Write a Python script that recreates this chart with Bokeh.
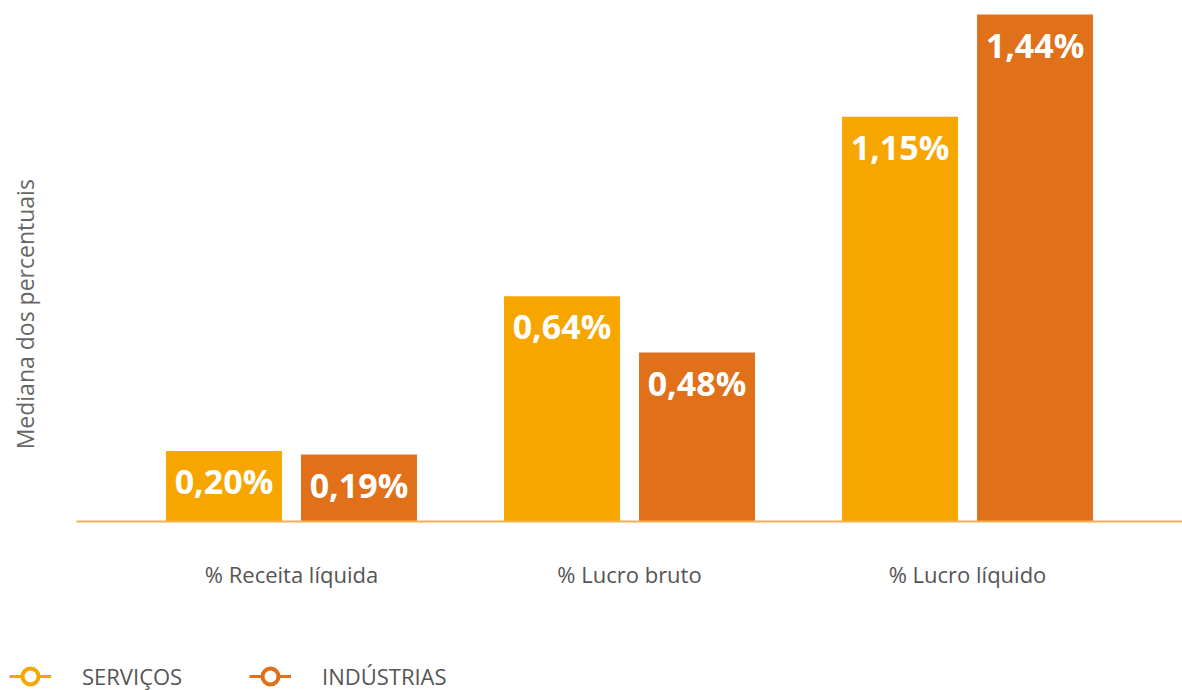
import math
from bokeh.plotting import figure
from bokeh.layouts import column, row
from bokeh.models import (FactorRange, Range1d, ColumnDataSource,
                          Legend, LegendItem, Label)
from bokeh.transform import dodge
from bokeh.core.properties import value
from bokeh.embed import file_html
from bokeh.resources import INLINE

categories = ["% Receita líquida", "% Lucro bruto", "% Lucro líquido"]
servicos = [0.20, 0.64, 1.15]
industrias = [0.19, 0.48, 1.44]
series_names = ["SERVIÇOS", "INDÚSTRIAS"]
y_title = "Mediana dos percentuais"

C_SERV = "#F7A600"
C_IND = "#E0701A"
FONT = "Open Sans"

TOP_H = 636
LEG_H = 54


def fmt(v):
    return f"{v:.2f}%".replace(".", ",")


def blank(fig):
    fig.outline_line_color = None
    fig.background_fill_color = "white"
    fig.border_fill_color = "white"
    fig.xgrid.grid_line_color = None
    fig.ygrid.grid_line_color = None


src = ColumnDataSource(dict(
    cat=categories,
    serv=servicos,
    ind=industrias,
    serv_lbl=[fmt(v) for v in servicos],
    ind_lbl=[fmt(v) for v in industrias],
))

# ---- main chart -------------------------------------------------------
p = figure(width=1106, height=TOP_H, output_backend="svg", toolbar_location=None,
           x_range=FactorRange(factors=categories, range_padding=0.136,
                               range_padding_units="absolute"),
           y_range=Range1d(0, 1.48),
           min_border_left=0, min_border_right=0, min_border_top=0,
           min_border_bottom=TOP_H - 521)
blank(p)

off = 0.1997
bw = 0.343
p.vbar(x=dodge("cat", -off, range=p.x_range), top="serv", width=bw, source=src,
       fill_color=C_SERV, line_color=None)
p.vbar(x=dodge("cat", off, range=p.x_range), top="ind", width=bw, source=src,
       fill_color=C_IND, line_color=None)

for col, lbl, o in (("serv", "serv_lbl", -off), ("ind", "ind_lbl", off)):
    p.text(x=dodge("cat", o, range=p.x_range), y=col, text=lbl, source=src,
           y_offset=30, text_align="center", text_baseline="middle",
           text_color="white", text_font=value(FONT), text_font_style="bold",
           text_font_size="34px")

p.xaxis.axis_line_color = "#F2B04E"
p.xaxis.axis_line_width = 2
p.xaxis.major_tick_line_color = None
p.xaxis.minor_tick_line_color = None
p.xaxis.major_label_standoff = 31
p.xaxis.major_label_text_font = FONT
p.xaxis.major_label_text_font_size = "22px"
p.xaxis.major_label_text_color = "#555555"
p.yaxis.visible = False

# ---- y title panel ----------------------------------------------------
ylab = figure(width=76, height=TOP_H, output_backend="svg", toolbar_location=None,
              x_range=Range1d(0, 76), y_range=Range1d(0, TOP_H),
              min_border=0)
blank(ylab)
ylab.axis.visible = False
ylab.add_layout(Label(x=24, y=TOP_H - 383, text=y_title, angle=math.pi / 2,
                      text_align="center", text_baseline="middle",
                      text_font=FONT, text_font_size="23px",
                      text_color="#666666"))

# ---- legend panel -----------------------------------------------------
leg = figure(width=1182, height=LEG_H, output_backend="svg", toolbar_location=None,
             x_range=Range1d(0, 1), y_range=Range1d(0, 1), min_border=0)
blank(leg)
leg.axis.visible = False
proxy = ColumnDataSource(dict(x=[float("nan")], y=[float("nan")]))
items = []
for name, c in zip(series_names, (C_SERV, C_IND)):
    r1 = leg.line(x="x", y="y", source=proxy, line_color=c, line_width=3)
    r2 = leg.scatter(x="x", y="y", source=proxy, size=13, marker="circle",
                     fill_color="white", line_color=c, line_width=4)
    items.append(LegendItem(label=name, renderers=[r1, r2]))

legend = Legend(items=items, orientation="horizontal", location=(9, -6),
                glyph_width=42, glyph_height=40, label_standoff=31,
                label_width=108, spacing=59,
                padding=0, margin=0, border_line_color=None,
                background_fill_alpha=0, label_text_font=FONT,
                label_text_font_size="22px", label_text_color="#555555")
leg.add_layout(legend, "center")

layout = column(row(ylab, p), leg)
open("out.html", "w").write(file_html(layout, INLINE))
